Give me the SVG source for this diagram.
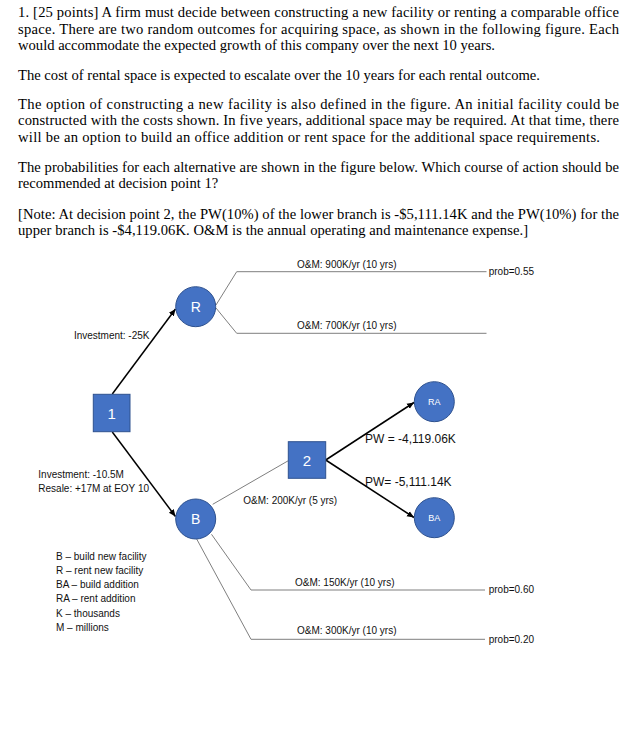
<svg xmlns="http://www.w3.org/2000/svg" width="635" height="730" viewBox="0 0 635 730">
<defs>
<style>
.q{font-family:"Liberation Serif","Times New Roman",serif;font-size:14.6px;fill:#000}
.l{font-family:"Liberation Sans",Arial,sans-serif;font-size:10px;fill:#111}
.pw{font-family:"Liberation Sans",Arial,sans-serif;font-size:12px;fill:#111}
.node{fill:#4472C4;stroke:#2F528F;stroke-width:1}
.nl{font-family:"Liberation Sans",Arial,sans-serif;fill:#fff;text-anchor:middle}
.g{fill:none;stroke:#7f7f7f;stroke-width:1}
.a{fill:none;stroke:#000;stroke-width:1.5}
</style>
<marker id="ah" markerWidth="8" markerHeight="8" refX="7" refY="4" orient="auto" markerUnits="userSpaceOnUse">
<path d="M0,1 L7,4 L0,7 Z" fill="#000"/>
</marker>
</defs>
<rect width="635" height="730" fill="#fff"/>
<g id="question">
<text class="q" x="18" y="17" textLength="601" lengthAdjust="spacing">1. [25 points] A firm must decide between constructing a new facility or renting a comparable office</text>
<text class="q" x="18" y="33.5" textLength="601" lengthAdjust="spacing">space. There are two random outcomes for acquiring space, as shown in the following figure. Each</text>
<text class="q" x="18" y="50">would accommodate the expected growth of this company over the next 10 years.</text>
<text class="q" x="18" y="80" textLength="522" lengthAdjust="spacing">The cost of rental space is expected to escalate over the 10 years for each rental outcome.</text>
<text class="q" x="18" y="108.5" textLength="601" lengthAdjust="spacing">The option of constructing a new facility is also defined in the figure. An initial facility could be</text>
<text class="q" x="18" y="125" textLength="601" lengthAdjust="spacing">constructed with the costs shown. In five years, additional space may be required. At that time, there</text>
<text class="q" x="18" y="141.5" textLength="582" lengthAdjust="spacing">will be an option to build an office addition or rent space for the additional space requirements.</text>
<text class="q" x="18" y="171.5" textLength="601" lengthAdjust="spacing">The probabilities for each alternative are shown in the figure below. Which course of action should be</text>
<text class="q" x="18" y="188">recommended at decision point 1?</text>
<text class="q" x="18" y="218.5" textLength="601" lengthAdjust="spacing">[Note: At decision point 2, the PW(10%) of the lower branch is -$5,111.14K and the PW(10%) for the</text>
<text class="q" x="18" y="235" textLength="510" lengthAdjust="spacing">upper branch is -$4,119.06K. O&amp;M is the annual operating and maintenance expense.]</text>
</g>
<g id="connectors">
<polyline class="g" points="216,305 236.7,271.7 486.5,271.7"/>
<polyline class="g" points="216,308 236.7,333.3 486.5,333.3"/>
<line class="g" x1="212.7" y1="504.3" x2="288.3" y2="460.7"/>
<polyline class="g" points="211.5,534.3 251,590 485,590"/>
<polyline class="g" points="196.7,539 251,639.3 485,639.3"/>
<line class="a" x1="112.3" y1="394" x2="175.5" y2="309" marker-end="url(#ah)"/>
<line class="a" x1="112.3" y1="432" x2="175.5" y2="516.5" marker-end="url(#ah)"/>
<line class="a" x1="325.7" y1="460" x2="414" y2="402.5" marker-end="url(#ah)"/>
<line class="a" x1="325.7" y1="460" x2="414" y2="517.5" marker-end="url(#ah)"/>
</g>
<g id="node1">
<rect class="node" x="93.3" y="394.3" width="36.7" height="37.4"/>
<text class="nl" x="111.7" y="418.5" font-size="15">1</text>
</g>
<g id="nodeR">
<circle class="node" cx="195.7" cy="306.7" r="20"/>
<text class="nl" x="195.7" y="312" font-size="14">R</text>
</g>
<g id="nodeB">
<circle class="node" cx="195.7" cy="519" r="20"/>
<text class="nl" x="195.7" y="524" font-size="14">B</text>
</g>
<g id="node2">
<rect class="node" x="288.3" y="441.7" width="37.4" height="36.6"/>
<text class="nl" x="307" y="465.5" font-size="15">2</text>
</g>
<g id="nodeRA">
<circle class="node" cx="434.3" cy="401.7" r="20"/>
<text class="nl" x="434.3" y="405" font-size="9">RA</text>
</g>
<g id="nodeBA">
<circle class="node" cx="434.3" cy="517.7" r="20"/>
<text class="nl" x="434.3" y="521" font-size="9">BA</text>
</g>
<g id="labels">
<text class="l" x="297" y="268" font-size="10.5">O&amp;M: 900K/yr (10 yrs)</text>
<text class="l" x="488.7" y="275">prob=0.55</text>
<text class="l" x="297" y="329" font-size="10.5">O&amp;M: 700K/yr (10 yrs)</text>
<text class="l" x="149.5" y="339" text-anchor="end">Investment: -25K</text>
<text class="pw" x="365" y="443">PW = -4,119.06K</text>
<text class="pw" x="365" y="485.5">PW= -5,111.14K</text>
<text class="l" x="38.3" y="478">Investment: -10.5M</text>
<text class="l" x="38.3" y="492">Resale: +17M at EOY 10</text>
<text class="l" x="243.3" y="503.5">O&amp;M: 200K/yr (5 yrs)</text>
<text class="l" x="295" y="585.5" font-size="10.5">O&amp;M: 150K/yr (10 yrs)</text>
<text class="l" x="488.7" y="593">prob=0.60</text>
<text class="l" x="297" y="634" font-size="10.5">O&amp;M: 300K/yr (10 yrs)</text>
<text class="l" x="488.7" y="642.5">prob=0.20</text>
</g>
<g id="legend">
<text class="l" x="56" y="560">B – build new facility</text>
<text class="l" x="56" y="574">R – rent new facility</text>
<text class="l" x="56" y="588.3">BA – build addition</text>
<text class="l" x="56" y="602.3">RA – rent addition</text>
<text class="l" x="56" y="616.5">K – thousands</text>
<text class="l" x="56" y="630.5">M – millions</text>
</g>
</svg>
